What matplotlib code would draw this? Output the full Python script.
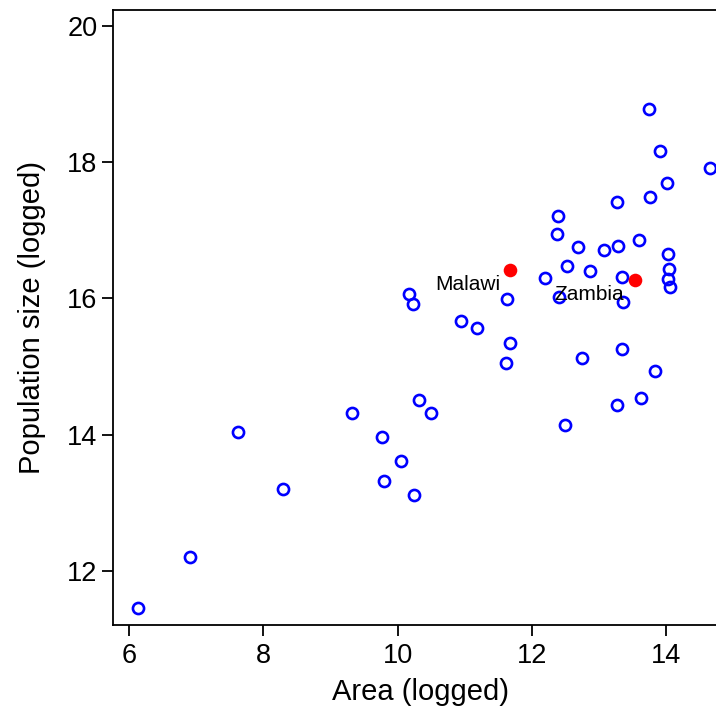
import matplotlib.pyplot as plt
import numpy as np

plt.rcParams['font.family'] = ['Liberation Sans', 'DejaVu Sans']

# other countries (blue hollow circles)
area = [6.13, 6.91, 7.62, 8.29, 9.32, 9.77, 10.05, 9.80, 10.24, 10.32,
        10.50, 10.94, 11.18, 11.68, 11.62, 12.74, 13.34, 13.84, 13.62, 13.27,
        12.50, 13.74, 13.91, 14.66, 14.01, 13.76, 13.27, 12.39, 12.38, 12.69,
        13.08, 13.29, 13.59, 14.03, 14.05, 14.03, 14.06, 12.52, 12.86, 12.19,
        13.34, 12.41, 13.36, 11.63, 10.17, 10.23]
pop = [11.45, 12.20, 14.04, 13.20, 14.32, 13.96, 13.61, 13.32, 13.11, 14.50,
       14.31, 15.67, 15.56, 15.35, 15.05, 15.12, 15.26, 14.93, 14.53, 14.44,
       14.14, 18.78, 18.16, 17.92, 17.70, 17.49, 17.41, 17.21, 16.95, 16.75,
       16.71, 16.77, 16.86, 16.65, 16.43, 16.29, 16.16, 16.48, 16.40, 16.30,
       16.32, 16.02, 15.95, 15.99, 16.06, 15.91]

# highlighted countries
hl_names = ['Malawi', 'Zambia']
hl_area = [11.68, 13.53]
hl_pop = [16.42, 16.27]
label_pos = [(11.53, 16.20), (13.37, 16.05)]

fig = plt.figure(figsize=(7.16, 7.13), dpi=100)
W, H = 716, 713
left, right, top, bottom = 112.7, 729, 10, 624.5
ax = fig.add_axes([left / W, (H - bottom) / H, (right - left) / W, (bottom - top) / H])

ax.plot(area, pop, 'o', ls='none', mfc='none', mec='blue', ms=8.0, mew=1.9)
ax.plot(hl_area, hl_pop, 'o', ls='none', color='red', ms=9.8, mew=0)
for name, (tx, ty) in zip(hl_names, label_pos):
    ax.text(tx, ty, name, ha='right', va='center', fontsize=15)

# pixel scale: 6 at x=129.3 (67.1 px/unit), 12 at y=570.7 (68.1 px/unit)
ax.set_xlim(6 - (129.3 - left) / 67.1, 6 + (right - 129.3) / 67.1)
ax.set_ylim(12 - (bottom - 570.7) / 68.1, 12 + (570.7 - top) / 68.1)

ax.set_xticks([6, 8, 10, 12, 14])
ax.set_yticks([12, 14, 16, 18, 20])
ax.tick_params(labelsize=19.5, length=8, width=1.3, direction='out')
ax.tick_params(axis='y', pad=3)
ax.tick_params(axis='x', pad=5)
ax.spines['right'].set_visible(False)
for s in ['left', 'bottom', 'top']:
    ax.spines[s].set_linewidth(1.3)

ax.set_xlabel('Area (logged)', fontsize=21, labelpad=7)
ax.set_ylabel('Population size (logged)', fontsize=21, labelpad=15)

fig.savefig('out.png', dpi=100)
